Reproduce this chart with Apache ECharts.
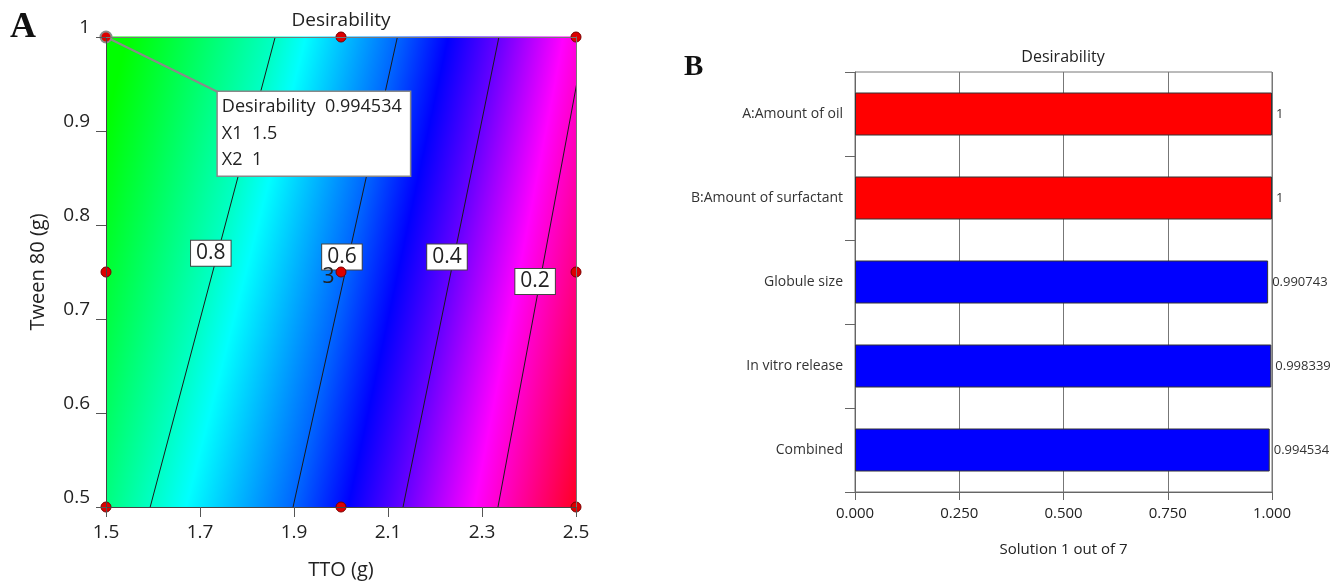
<!DOCTYPE html>
<html><head><meta charset="utf-8">
<script src="https://cdn.jsdelivr.net/npm/echarts@6/dist/echarts.min.js"></script>
<style>html,body{margin:0;padding:0;background:#fff}#c{width:1335px;height:585px}</style>
</head><body><div id="c"></div>
<script>
// ---------- Panel A data ----------
const xTicksA = [1.5, 1.7, 1.9, 2.1, 2.3, 2.5];
const yTicksA = [0.5, 0.6, 0.7, 0.8, 0.9, 1.0];
const contourLevels = [0.8, 0.6, 0.4, 0.2];
const contourBottomX = [1.594, 1.898, 2.132, 2.334];   // where each contour meets Tween = 0.5
const contourTopX = [1.860, 2.120, 2.336, 2.520];      // where each contour meets Tween = 1.0
const edgeLeftD = [0.86, 0.9945];   // desirability on TTO = 1.5 edge (bottom, top)
const edgeRightD = [0.036, 0.22];   // desirability on TTO = 2.5 edge (bottom, top)
const contourLabelX = [1.723, 2.002, 2.2255, 2.413];
const contourLabelY = [0.770, 0.766, 0.766, 0.740];
const designX = [1.5, 2.0, 2.5, 1.5, 2.0, 2.5, 2.0, 2.5];
const designY = [0.5, 0.5, 0.5, 0.75, 0.75, 0.75, 1.0, 1.0];
const designLabels = ['', '', '', '', '3', '', '', ''];
const selectedPoint = [1.5, 1.0];
const selectedBoxAt = [1.738, 0.9415];
const selectedText = ['Desirability  0.994534', 'X1  1.5', 'X2  1'];

// ---------- Panel B data ----------
const categoriesB = ['A:Amount of oil', 'B:Amount of surfactant', 'Globule size', 'In vitro release', 'Combined'];
const valuesB = [1, 1, 0.990743, 0.998339, 0.994534];
const colorsB = ['#ff0000', '#ff0000', '#0000ff', '#0000ff', '#0000ff'];
const xTicksB = [0, 0.25, 0.5, 0.75, 1];

const FONT = 'Open Sans';
// colour ramp (desirability -> colour)
const cmap = [[0, [255, 0, 0]], [0.25, [255, 0, 255]], [0.5, [0, 0, 255]], [0.75, [0, 255, 255]], [0.97, [0, 255, 0]]];
function colorAt(d) {
  if (d <= cmap[0][0]) return 'rgb(' + cmap[0][1].join(',') + ')';
  for (let i = 0; i < cmap.length - 1; i++) {
    const a = cmap[i], b = cmap[i + 1];
    if (d <= b[0]) {
      const f = (d - a[0]) / (b[0] - a[0]);
      const c = a[1].map((v, k) => Math.round(v + (b[1][k] - v) * f));
      return 'rgb(' + c.join(',') + ')';
    }
  }
  return 'rgb(' + cmap[cmap.length - 1][1].join(',') + ')';
}
function rowStops(t) {
  const knots = [[1.5, edgeLeftD[0] + (edgeLeftD[1] - edgeLeftD[0]) * t]];
  for (let k = 0; k < contourLevels.length; k++) {
    const x = contourBottomX[k] + (contourTopX[k] - contourBottomX[k]) * t;
    if (x > 1.5 && x < 2.5) knots.push([x, contourLevels[k]]);
  }
  knots.push([2.5, edgeRightD[0] + (edgeRightD[1] - edgeRightD[0]) * t]);
  const stops = [];
  for (let i = 0; i < knots.length - 1; i++) {
    const [xa, da] = knots[i], [xb, db] = knots[i + 1];
    stops.push({ offset: xa - 1.5, color: colorAt(da) });
    const mids = [];
    for (const s of cmap) {
      const v = s[0];
      if ((v - da) * (v - db) < 0) mids.push(xa + (v - da) / (db - da) * (xb - xa));
    }
    mids.sort((p, q) => p - q);
    for (const x of mids) {
      const d = da + (db - da) * (x - xa) / (xb - xa);
      stops.push({ offset: x - 1.5, color: colorAt(d) });
    }
  }
  stops.push({ offset: 1, color: colorAt(knots[knots.length - 1][1]) });
  stops.forEach(s => s.offset = Math.min(1, Math.max(0, s.offset)));
  return stops;
}
const NROWS = 235;
const fieldRows = Array.from({ length: NROWS }, (_, i) => [2.0, 0.5 + 0.5 * (i + 0.5) / NROWS, i]);

const chart = echarts.init(document.getElementById('c'), null, { renderer: 'canvas' });

const series = [];
series.push({
  type: 'custom', xAxisIndex: 0, yAxisIndex: 0, z: 1, silent: true, clip: false,
  encode: { x: 0, y: 1 },
  data: fieldRows,
  renderItem(params, api) {
    const i = api.value(2);
    const y0 = 0.5 + 0.5 * i / NROWS, y1 = 0.5 + 0.5 * (i + 1) / NROWS;
    const p0 = api.coord([1.5, y1]), p1 = api.coord([2.5, y0]);
    const t = (i + 0.5) / NROWS;
    return {
      type: 'rect',
      shape: { x: p0[0], y: p0[1] - 0.5, width: p1[0] - p0[0], height: p1[1] - p0[1] + 1 },
      style: { fill: new echarts.graphic.LinearGradient(0, 0, 1, 0, rowStops(t)) }
    };
  }
});
contourLevels.forEach((lv, k) => {
  series.push({
    type: 'line', xAxisIndex: 0, yAxisIndex: 0, z: 3, silent: true, clip: true,
    symbol: 'none', lineStyle: { color: '#1a1a1a', width: 1 },
    data: [[contourBottomX[k], 0.5], [contourTopX[k], 1.0]]
  });
});
series.push({
  type: 'scatter', xAxisIndex: 0, yAxisIndex: 0, z: 6, silent: true,
  symbolSize: 0, itemStyle: { opacity: 1 },
  data: contourLevels.map((lv, k) => [contourLabelX[k], contourLabelY[k], lv]),
  label: {
    show: true, position: 'inside', formatter: p => String(p.value[2]),
    fontFamily: FONT, fontSize: 21, color: '#222',
    backgroundColor: '#fff', borderColor: '#444', borderWidth: 1, padding: [3, 5, 1, 5]
  }
});
series.push({
  type: 'line', xAxisIndex: 0, yAxisIndex: 0, z: 4, silent: true, symbol: 'none',
  lineStyle: { color: '#8a8a8a', width: 2 },
  data: [selectedPoint, selectedBoxAt]
});
series.push({
  type: 'scatter', xAxisIndex: 0, yAxisIndex: 0, z: 8, silent: true,
  symbolSize: 10,
  itemStyle: { color: '#dd0000', borderColor: '#7a0000', borderWidth: 1, opacity: 1 },
  data: designX.map((x, i) => ({
    value: [x, designY[i]],
    label: designLabels[i] ? { show: true, formatter: designLabels[i], position: 'left', distance: 1, offset: [0, 5], fontFamily: FONT, fontSize: 21, color: '#222' } : { show: false }
  }))
});
series.push({
  type: 'scatter', xAxisIndex: 0, yAxisIndex: 0, z: 8, silent: true,
  symbolSize: 11,
  itemStyle: { color: '#dd0000', borderColor: '#8a8a8a', borderWidth: 2, opacity: 1 },
  data: [selectedPoint]
});
series.push({
  type: 'scatter', xAxisIndex: 0, yAxisIndex: 0, z: 7, silent: true,
  symbolSize: 0, itemStyle: { opacity: 1 },
  data: [selectedBoxAt],
  label: {
    show: true, position: [0, 0], align: 'left', verticalAlign: 'top',
    formatter: selectedText.join('\n'),
    fontFamily: FONT, fontSize: 18, lineHeight: 26.5, color: '#222',
    backgroundColor: '#fff', borderColor: '#888', borderWidth: 1.5,
    padding: [2, 4, 2, 4], width: 184
  }
});
// Panel B bars
series.push({
  type: 'bar', xAxisIndex: 2, yAxisIndex: 2, barWidth: 43, silent: true,
  data: valuesB.map((v, i) => ({ value: v, itemStyle: { color: colorsB[i] } })),
  itemStyle: { borderColor: '#333', borderWidth: 1 },
  label: { show: true, position: 'right', distance: 4, formatter: p => String(p.value), fontFamily: FONT, fontSize: 13, color: '#333' }
});

const option = {
  animation: false,
  backgroundColor: '#fff',
  textStyle: { fontFamily: FONT },
  grid: [
    { left: 106, top: 37, width: 470, height: 470, show: false },
    { left: 855, top: 72, width: 417, height: 420, show: true, borderColor: '#777', borderWidth: 1, backgroundColor: 'transparent' }
  ],
  xAxis: [
    {
      gridIndex: 0, type: 'value', min: 1.5, max: 2.5, z: 10,
      name: 'TTO (g)', nameLocation: 'middle', nameGap: 53,
      nameTextStyle: { fontFamily: FONT, fontSize: 20, color: '#222' },
      axisLine: { show: true, lineStyle: { color: '#444', width: 1 } },
      axisTick: { show: true, length: 10, lineStyle: { color: '#555' }, customValues: xTicksA },
      axisLabel: { fontFamily: FONT, fontSize: 19, color: '#222', margin: 16, customValues: xTicksA, formatter: v => String(+v.toFixed(1)) },
      splitLine: { show: false }
    },
    {
      gridIndex: 0, type: 'value', min: 1.5, max: 2.5, position: 'top', z: 10,
      axisLine: { show: true, lineStyle: { color: '#777', width: 1 } },
      axisTick: { show: false }, axisLabel: { show: false }, splitLine: { show: false }
    },
    {
      gridIndex: 1, type: 'value', min: 0, max: 1, interval: 0.25,
      name: 'Solution 1 out of 7', nameLocation: 'middle', nameGap: 50,
      nameTextStyle: { fontFamily: FONT, fontSize: 15, color: '#222' },
      axisLine: { show: true, lineStyle: { color: '#666' } },
      axisTick: { show: true, length: 8, lineStyle: { color: '#666' }, customValues: xTicksB },
      axisLabel: { fontFamily: FONT, fontSize: 15, color: '#222', margin: 14, customValues: xTicksB, formatter: v => v.toFixed(3) },
      splitLine: { show: true, lineStyle: { color: '#777', width: 1 } }
    }
  ],
  yAxis: [
    {
      gridIndex: 0, type: 'value', min: 0.5, max: 1, z: 10,
      name: 'Tween 80 (g)', nameLocation: 'middle', nameGap: 58, nameRotate: 90,
      nameTextStyle: { fontFamily: FONT, fontSize: 20, color: '#222' },
      axisLine: { show: true, lineStyle: { color: '#444', width: 1 } },
      axisTick: { show: true, length: 10, lineStyle: { color: '#555' }, customValues: yTicksA },
      axisLabel: { fontFamily: FONT, fontSize: 19, color: '#222', margin: 16, verticalAlign: 'bottom', customValues: yTicksA, formatter: v => String(+v.toFixed(1)) },
      splitLine: { show: false }
    },
    {
      gridIndex: 0, type: 'value', min: 0.5, max: 1, position: 'right', z: 10,
      axisLine: { show: true, lineStyle: { color: '#777', width: 1 } },
      axisTick: { show: false }, axisLabel: { show: false }, splitLine: { show: false }
    },
    {
      gridIndex: 1, type: 'category', data: categoriesB, inverse: true,
      axisLine: { show: true, lineStyle: { color: '#666' } },
      axisTick: { show: true, length: 10, lineStyle: { color: '#666' } },
      axisLabel: { fontFamily: FONT, fontSize: 14, color: '#333', margin: 12 },
      splitLine: { show: false }
    }
  ],
  graphic: [
    { type: 'text', left: 10, top: 10, style: { text: 'A', font: 'bold 36px "Liberation Serif"', fill: '#111' } },
    { type: 'text', left: 684, top: 53, style: { text: 'B', font: 'bold 29px "Liberation Serif"', fill: '#111' } },
    { type: 'text', x: 341, y: 21, style: { text: 'Desirability', font: '19px "' + FONT + '"', fill: '#222', align: 'center', verticalAlign: 'middle' } },
    { type: 'text', x: 1063, y: 57, style: { text: 'Desirability', font: '16px "' + FONT + '"', fill: '#222', align: 'center', verticalAlign: 'middle' } }
  ],
  series
};
chart.setOption(option);
</script>
</body></html>
